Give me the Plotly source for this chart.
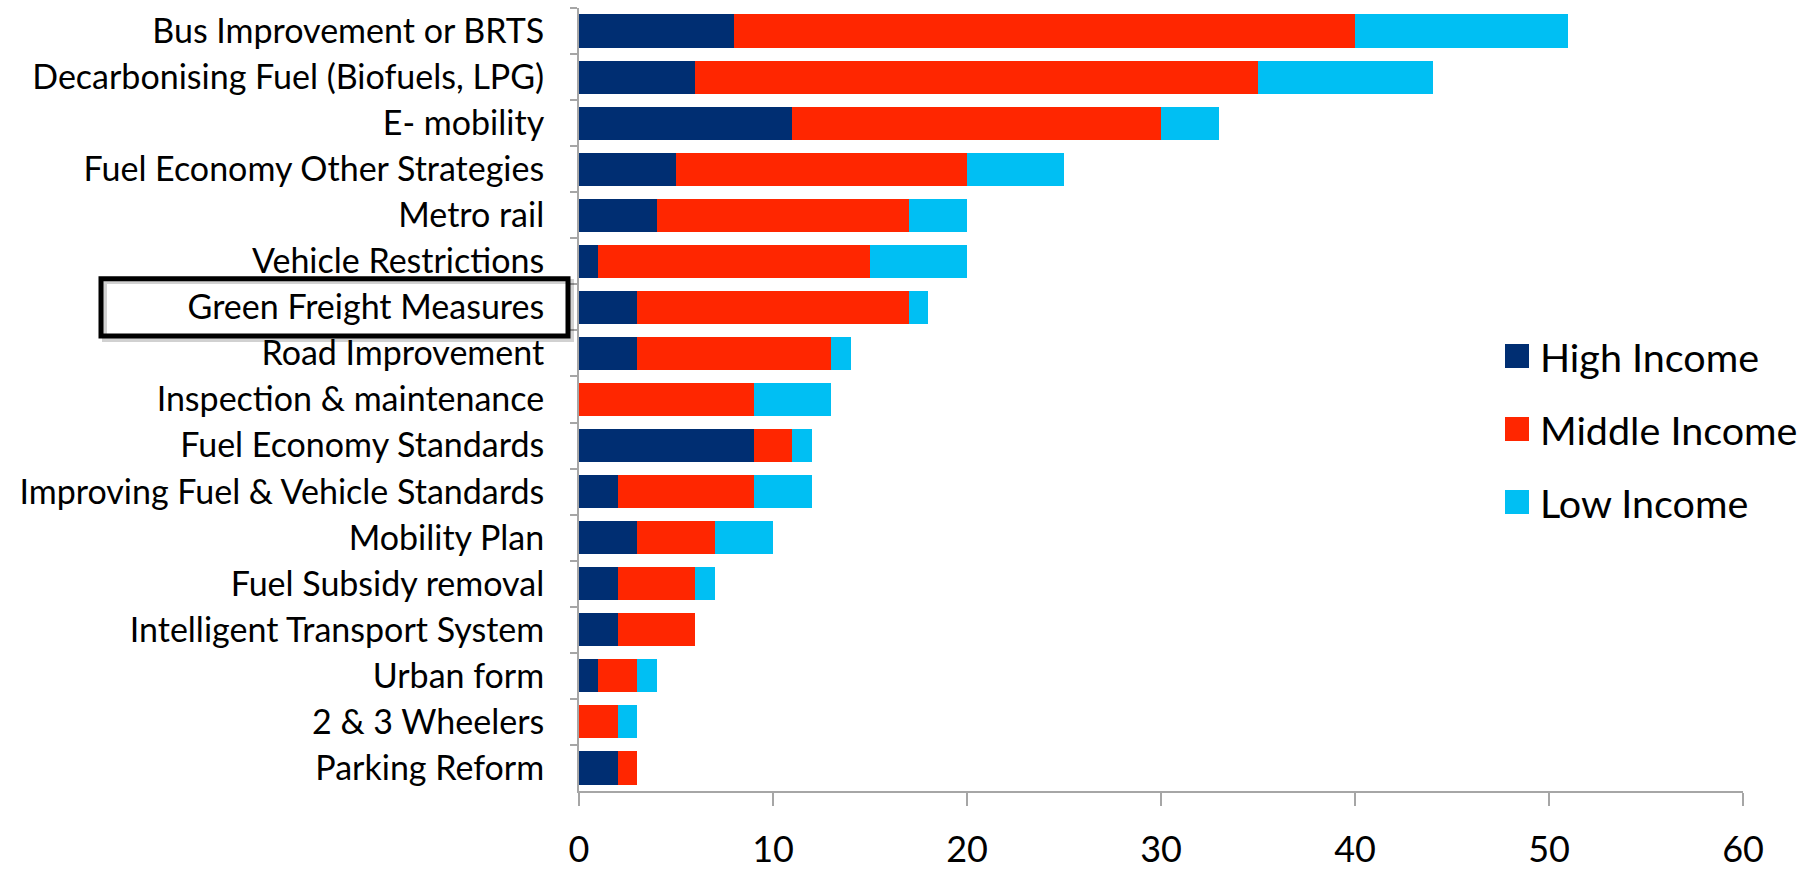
import plotly.graph_objects as go

# Measures, listed top to bottom
measures = [
    "Bus Improvement or BRTS",
    "Decarbonising Fuel (Biofuels, LPG)",
    "E- mobility",
    "Fuel Economy Other Strategies",
    "Metro rail",
    "Vehicle Restrictions",
    "Green Freight Measures",
    "Road Improvement",
    "Inspection & maintenance",
    "Fuel Economy Standards",
    "Improving Fuel & Vehicle Standards",
    "Mobility Plan",
    "Fuel Subsidy removal",
    "Intelligent Transport System",
    "Urban form",
    "2 & 3 Wheelers",
    "Parking Reform",
]

high_income = [8, 6, 11, 5, 4, 1, 3, 3, 0, 9, 2, 3, 2, 2, 1, 0, 2]
middle_income = [32, 29, 19, 15, 13, 14, 14, 10, 9, 2, 7, 4, 4, 4, 2, 2, 1]
low_income = [11, 9, 3, 5, 3, 5, 1, 1, 4, 1, 3, 3, 1, 0, 1, 1, 0]

series_names = ["High Income", "Middle Income", "Low Income"]
series_values = [high_income, middle_income, low_income]
series_colors = ["#002e72", "#ff2600", "#00bff3"]

highlighted = "Green Freight Measures"

FONT = "Lato"
AXIS_GREY = "#a6a6a6"

fig = go.Figure()
for name, vals, color in zip(series_names, series_values, series_colors):
    fig.add_trace(go.Bar(
        y=measures, x=vals, name=name, orientation="h",
        marker=dict(color=color, line=dict(width=0)),
        showlegend=False,
    ))

# Plot area in pixels
W, H = 1806, 872
left, right, top, bottom = 579, 63, 8, 81
plot_w = W - left - right
plot_h = H - top - bottom

def px_x(px):
    return (px - left) / plot_w

def px_y(py):
    return (H - bottom - py) / plot_h

# Legend drawn as swatches + labels at the right of the plot
legend_x = 1505
legend_y0 = 356
legend_step = 73
swatch = 24
for i, (name, color) in enumerate(zip(series_names, series_colors)):
    cy = legend_y0 + i * legend_step
    fig.add_shape(
        type="rect", xref="paper", yref="paper",
        x0=px_x(legend_x), x1=px_x(legend_x + swatch),
        y0=px_y(cy + swatch / 2), y1=px_y(cy - swatch / 2),
        fillcolor=color, line=dict(width=0),
    )
    fig.add_annotation(
        xref="paper", yref="paper", x=px_x(legend_x + swatch + 9), y=px_y(cy),
        text=name, showarrow=False, xanchor="left", yanchor="middle",
        font=dict(family=FONT, size=39.5, color="black"),
    )

# Frame around the highlighted category label
idx = measures.index(highlighted)
box_x0, box_x1 = px_x(101), px_x(568)
fig.add_shape(
    type="rect", xref="paper", yref="y",
    x0=box_x0 + 0.003, x1=box_x1 + 0.003, y0=idx - 0.56, y1=idx + 0.70,
    line=dict(color="rgba(0,0,0,0.18)", width=5), layer="above",
)
fig.add_shape(
    type="rect", xref="paper", yref="y",
    x0=box_x0, x1=box_x1, y0=idx - 0.62, y1=idx + 0.62,
    line=dict(color="black", width=5), layer="above",
)

fig.update_layout(
    width=W, height=H,
    margin=dict(l=left, r=right, t=top, b=bottom, pad=0),
    barmode="stack",
    bargap=0.28,
    plot_bgcolor="white",
    paper_bgcolor="white",
    font=dict(family=FONT, color="black"),
    xaxis=dict(
        range=[0, 60], dtick=10, tick0=0,
        automargin=False,
        showgrid=False, zeroline=False,
        showline=True, linecolor=AXIS_GREY, linewidth=2,
        ticks="outside", ticklen=13, tickwidth=2, tickcolor=AXIS_GREY,
        ticklabelstandoff=13,
        tickfont=dict(family=FONT, size=36, color="black"),
    ),
    yaxis=dict(
        categoryorder="array", categoryarray=measures,
        autorange="reversed",
        automargin=False,
        showgrid=False, zeroline=False,
        showline=True, linecolor=AXIS_GREY, linewidth=2,
        ticks="outside", ticklen=7, tickwidth=2, tickcolor=AXIS_GREY,
        tickson="boundaries",
        ticklabelstandoff=26,
        tickfont=dict(family=FONT, size=34, color="black"),
    ),
)

fig.write_html("out.html")
